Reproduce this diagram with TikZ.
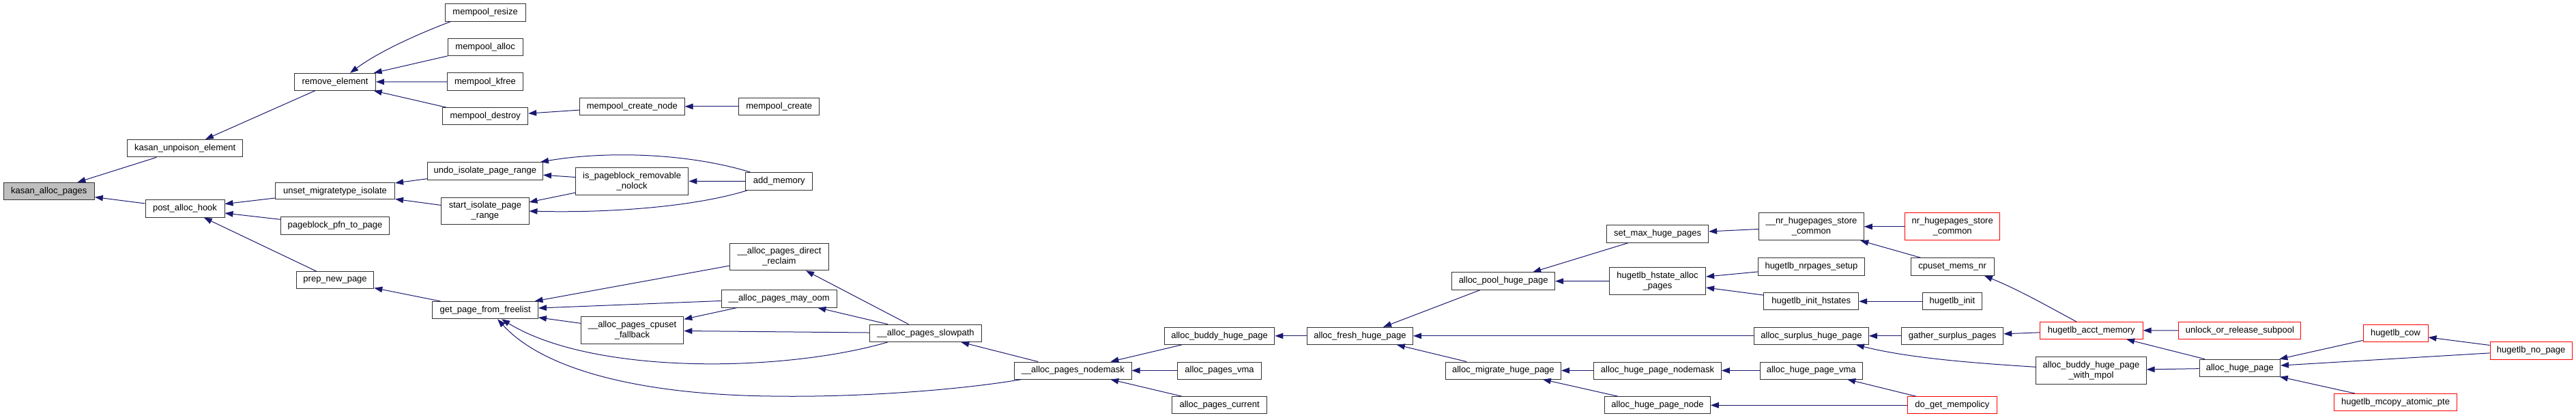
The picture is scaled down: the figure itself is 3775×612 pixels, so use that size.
\documentclass[tikz,border=0pt]{standalone}
\usepackage{fontspec}
\setmainfont{Liberation Sans}
\usetikzlibrary{arrows.meta}
\definecolor{edgeblue}{RGB}{25,25,112}
\definecolor{rootgray}{RGB}{191,191,191}
\definecolor{boxline}{RGB}{50,50,50}
\newcommand{\gn}[7][fn]{\node[#1,minimum width={#5-#3},minimum height={#6-#4}] (#2) at ({(#3+#5)/2},{(#4+#6)/2}) {#7};}
\begin{document}
\begin{tikzpicture}[x=1pt,y=-1pt,
 fn/.style={draw=boxline, line width=1pt, fill=white, inner sep=0pt, font=\fontsize{13}{15}\selectfont, align=center},
 fnred/.style={fn, draw=red},
 fnroot/.style={fn, fill=rootgray},
 edge/.style={draw=edgeblue, line width=1pt, -{Triangle[length=12pt,width=8.5pt]}}]
\useasboundingbox (0,0) rectangle (3775,612);
% nodes
\gn[fnroot]{ka}{5}{267.4}{138.4}{292.7}{kasan\_alloc\_pages}
\gn{kue}{186.6}{204.5}{355.8}{229.9}{kasan\_unpoison\_element}
\gn{re}{431.7}{107.3}{550.4}{132.3}{remove\_element}
\gn{pah}{213}{292.7}{329}{318.1}{post\_alloc\_hook}
\gn{umi}{403.6}{267.4}{578.6}{292}{unset\_migratetype\_isolate}
\gn{ppp}{411.6}{317.7}{570.5}{343.1}{pageblock\_pfn\_to\_page}
\gn{pnp}{434.4}{397.7}{547.8}{422.7}{prep\_new\_page}
\gn{mrs}{652.2}{5.9}{770.1}{31.2}{mempool\_resize}
\gn{mal}{656.3}{56.6}{766}{82}{mempool\_alloc}
\gn{mkf}{655.4}{107}{766.5}{132.7}{mempool\_kfree}
\gn{mds}{648.7}{157.7}{773.7}{183}{mempool\_destroy}
\gn{mcn}{849.6}{143.2}{1003.1}{168.6}{mempool\_create\_node}
\gn{mcr}{1082.6}{143.2}{1200.9}{168.6}{mempool\_create}
\gn{uipr}{626.3}{237.7}{795.5}{263.1}{undo\_isolate\_page\_range}
\gn{sipr}{646.9}{289.2}{775}{329}{start\_isolate\_page\\\_range}
\gn{ipr}{843.3}{245.1}{1008.9}{285.3}{is\_pageblock\_removable\\\_nolock}
\gn{am}{1092.9}{252.5}{1190.6}{278.3}{add\_memory}
\gn{gpf}{633.9}{441.5}{788.4}{466.8}{get\_page\_from\_freelist}
\gn{apdr}{1069.6}{356}{1214.3}{395.8}{\_\_alloc\_pages\_direct\\\_reclaim}
\gn{apmo}{1057.1}{424.3}{1226.3}{450}{\_\_alloc\_pages\_may\_oom}
\gn{apcf}{851.3}{463.7}{1001.8}{503.9}{\_\_alloc\_pages\_cpuset\\\_fallback}
\gn{aps}{1274.5}{475.2}{1438.6}{500.4}{\_\_alloc\_pages\_slowpath}
\gn{apn}{1486.6}{530}{1658}{555}{\_\_alloc\_pages\_nodemask}
\gn{abhp}{1706.3}{479.3}{1867.9}{504.3}{alloc\_buddy\_huge\_page}
\gn{apv}{1725.9}{530}{1848.2}{555}{alloc\_pages\_vma}
\gn{apc}{1717.9}{580.8}{1856.3}{605.8}{alloc\_pages\_current}
\gn{afhp}{1915.6}{479.3}{2070.5}{504.3}{alloc\_fresh\_huge\_page}
\gn{aphp}{2127.7}{398.9}{2278.6}{424.3}{alloc\_pool\_huge\_page}
\gn{amhp}{2118.3}{530}{2287.5}{555}{alloc\_migrate\_huge\_page}
\gn{smhp}{2354.5}{329.8}{2503.6}{355.2}{set\_max\_huge\_pages}
\gn{hhap}{2358.5}{391.9}{2499.6}{431.7}{hugetlb\_hstate\_alloc\\\_pages}
\gn{ahpn}{2335.7}{530}{2522.3}{555}{alloc\_huge\_page\_nodemask}
\gn{ahpnd}{2351.8}{580.8}{2506.3}{605.8}{alloc\_huge\_page\_node}
\gn{nhsc}{2577.7}{311.9}{2731.3}{351.7}{\_\_nr\_hugepages\_store\\\_common}
\gn[fnred]{nhsc2}{2791.5}{311.9}{2930.8}{351.7}{nr\_hugepages\_store\\\_common}
\gn{hns}{2576.3}{377.8}{2732.6}{403.2}{hugetlb\_nrpages\_setup}
\gn{hih}{2584.8}{428.6}{2723.7}{453.9}{hugetlb\_init\_hstates}
\gn{cmn}{2800}{377.8}{2922.3}{403.2}{cpuset\_mems\_nr}
\gn{hi}{2817}{428.6}{2904.9}{453.9}{hugetlb\_init}
\gn{ashp}{2570.5}{479.3}{2738.4}{504.3}{alloc\_surplus\_huge\_page}
\gn{gsp}{2786.6}{479.3}{2935.7}{504.3}{gather\_surplus\_pages}
\gn[fnred]{ham}{2989.3}{471.4}{3140.2}{496.3}{hugetlb\_acct\_memory}
\gn{abhpm}{2983.9}{522.2}{3145.1}{562.5}{alloc\_buddy\_huge\_page\\\_with\_mpol}
\gn{ahpv}{2579}{530}{2729.5}{555}{alloc\_huge\_page\_vma}
\gn[fnred]{dgm}{2795.5}{580.8}{2926.3}{605.8}{do\_get\_mempolicy}
\gn[fnred]{uors}{3192.9}{471.1}{3371.9}{496.5}{unlock\_or\_release\_subpool}
\gn{ahp}{3223.2}{526.2}{3341.5}{551.1}{alloc\_huge\_page}
\gn[fnred]{hc}{3463}{475}{3558}{500.4}{hugetlb\_cow}
\gn[fnred]{hnp}{3649.1}{500.4}{3769.2}{526.2}{hugetlb\_no\_page}
\gn[fnred]{hmap}{3420.1}{576.5}{3600.9}{601.9}{hugetlb\_mcopy\_atomic\_pte}
% edges
\draw[edge] (kue) -- (ka);
\draw[edge] (pah) -- (ka);
\draw[edge] (re) -- (kue);
\draw[edge] ([xshift=8.5pt]mrs.south west) .. controls (625,45) and (560,72) .. ([xshift=22pt]re.north);
\draw[edge] (mal) -- (re);
\draw[edge] (mkf) -- (re);
\draw[edge] (mds) -- (re);
\draw[edge] (mcn) -- (mds);
\draw[edge] (mcr) -- (mcn);
\draw[edge] (umi) -- (pah);
\draw[edge] (ppp) -- (pah);
\draw[edge] (pnp) -- (pah);
\draw[edge] (uipr) -- (umi);
\draw[edge] (sipr) -- (umi);
\draw[edge] (ipr) -- (uipr);
\draw[edge] (ipr) -- (sipr);
\draw[edge] ([xshift=7pt]am.north west) .. controls (1000,222) and (880,222) .. ([xshift=-4pt]uipr.north east);
\draw[edge] (am) -- (ipr);
\draw[edge] ([xshift=2.6pt]am.south west) .. controls (1020,302) and (900,312) .. (sipr.east);
\draw[edge] (gpf) -- (pnp);
\draw[edge] (apdr) -- (gpf);
\draw[edge] (apmo) -- (gpf);
\draw[edge] (apcf) -- (gpf);
\draw[edge] (apmo) -- (apcf);
\draw[edge] (aps) -- (apdr);
\draw[edge] (aps) -- (apmo);
\draw[edge] (aps) -- (apcf);
\draw[edge] ([xshift=27pt]aps.south west) .. controls (1150,545) and (870,550) .. ([xshift=24pt]gpf.south);
\draw[edge] ([xshift=11pt]apn.south west) .. controls (1400,572) and (1250,582) .. (1130,580) .. controls (950,578) and (800,545) .. ([xshift=18pt]gpf.south);
\draw[edge] (apn) -- (aps);
\draw[edge] (abhp) -- (apn);
\draw[edge] (apv) -- (apn);
\draw[edge] (apc) -- (apn);
\draw[edge] (afhp) -- (abhp);
\draw[edge] (aphp) -- (afhp);
\draw[edge] (ashp) -- (afhp);
\draw[edge] (amhp) -- (afhp);
\draw[edge] (smhp) -- (aphp);
\draw[edge] (hhap) -- (aphp);
\draw[edge] (ahpn) -- (amhp);
\draw[edge] (ahpnd) -- (amhp);
\draw[edge] (nhsc) -- (smhp);
\draw[edge] (hns) -- (hhap);
\draw[edge] (hih) -- (hhap);
\draw[edge] (ahpv) -- (ahpn);
\draw[edge] (dgm) -- (ahpnd);
\draw[edge] (dgm) -- (ahpv);
\draw[edge] (nhsc2) -- (nhsc);
\draw[edge] (cmn) -- (nhsc);
\draw[edge] (hi) -- (hih);
\draw[edge] (gsp) -- (ashp);
\draw[edge] ([yshift=5pt]abhpm.west) .. controls (2900,532) and (2800,525) .. ([xshift=-19pt]ashp.south east);
\draw[edge] ([xshift=-22pt]ham.north) .. controls (3000,448) and (2960,425) .. ([xshift=-15pt]cmn.south east);
\draw[edge] (ham) -- (gsp);
\draw[edge] (uors) -- (ham);
\draw[edge] (ahp) -- (ham);
\draw[edge] (ahp) -- (abhpm);
\draw[edge] (hc) -- (ahp);
\draw[edge] (hnp) -- (ahp);
\draw[edge] (hmap) -- (ahp);
\draw[edge] (hnp) -- (hc);
\end{tikzpicture}
\end{document}
